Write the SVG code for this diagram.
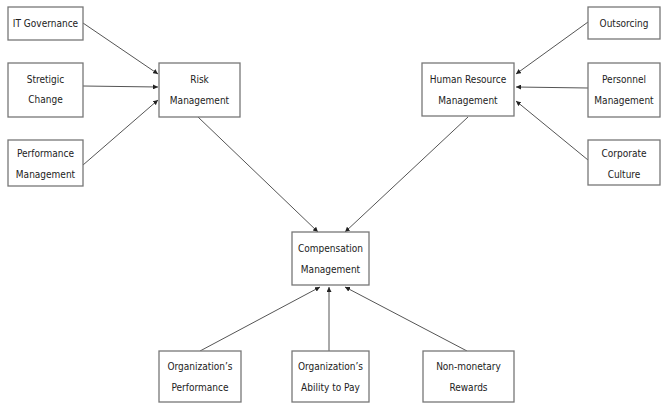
<svg xmlns="http://www.w3.org/2000/svg" width="663" height="411" viewBox="0 0 663 411">
<defs>
<marker id="ah" viewBox="0 0 10 10" refX="10" refY="5" markerWidth="5" markerHeight="5" orient="auto" markerUnits="userSpaceOnUse">
<path d="M0,0 L10,5 L0,10 z" fill="#222"/>
</marker>
<style>
.box{fill:#fff;stroke:#777;stroke-width:1.3}
.t{font-family:"Liberation Sans Narrow","DejaVu Sans Condensed","Liberation Sans",sans-serif;font-size:10px;fill:#222;text-anchor:middle}
.c{stroke:#555;stroke-width:1;fill:none;marker-end:url(#ah)}
</style>
</defs>
<rect width="663" height="411" fill="#fff"/>
<g id="connectors">
<line class="c" x1="83" y1="23" x2="158" y2="74"/>
<line class="c" x1="83" y1="86" x2="158" y2="87"/>
<line class="c" x1="83" y1="165" x2="158" y2="100"/>
<line class="c" x1="588" y1="22" x2="516" y2="74"/>
<line class="c" x1="588" y1="88" x2="516" y2="87"/>
<line class="c" x1="588" y1="160" x2="516" y2="101"/>
<line class="c" x1="198" y1="117" x2="318" y2="232"/>
<line class="c" x1="468" y1="117" x2="345" y2="232"/>
<line class="c" x1="200" y1="351" x2="320" y2="287"/>
<line class="c" x1="329" y1="351" x2="329" y2="287"/>
<line class="c" x1="467" y1="351" x2="345" y2="287"/>
</g>
<g id="it-governance"><rect class="box" x="8" y="7" width="75" height="33"/><text class="t" x="45.5" y="27">IT Governance</text></g>
<g id="strategic-change"><rect class="box" x="8" y="63" width="75" height="54"/><text class="t" x="45.5" y="83">Stretigic</text><text class="t" x="45.5" y="103">Change</text></g>
<g id="performance-management"><rect class="box" x="8" y="140" width="75" height="46"/><text class="t" x="45.5" y="157">Performance</text><text class="t" x="45.5" y="178">Management</text></g>
<g id="risk-management"><rect class="box" x="159" y="63" width="81" height="54"/><text class="t" x="199.5" y="83">Risk</text><text class="t" x="199.5" y="104">Management</text></g>
<g id="hrm"><rect class="box" x="422" y="63" width="92" height="53"/><text class="t" x="468" y="83">Human Resource</text><text class="t" x="468" y="104">Management</text></g>
<g id="outsourcing"><rect class="box" x="588" y="7" width="72" height="32"/><text class="t" x="624" y="27">Outsorcing</text></g>
<g id="personal-management"><rect class="box" x="588" y="63" width="72" height="54"/><text class="t" x="624" y="83">Personnel</text><text class="t" x="624" y="104">Management</text></g>
<g id="corporate-culture"><rect class="box" x="588" y="140" width="72" height="45"/><text class="t" x="624" y="157">Corporate</text><text class="t" x="624" y="178">Culture</text></g>
<g id="compensation-management"><rect class="box" x="292" y="232" width="77" height="53"/><text class="t" x="330.5" y="252">Compensation</text><text class="t" x="330.5" y="273">Management</text></g>
<g id="org-performance"><rect class="box" x="159" y="351" width="82" height="51"/><text class="t" x="200" y="370">Organization’s</text><text class="t" x="200" y="391">Performance</text></g>
<g id="org-ability"><rect class="box" x="292" y="351" width="77" height="51"/><text class="t" x="330.5" y="370">Organization’s</text><text class="t" x="330.5" y="391">Ability to Pay</text></g>
<g id="non-monetary"><rect class="box" x="423" y="351" width="91" height="51"/><text class="t" x="468.5" y="370">Non-monetary</text><text class="t" x="468.5" y="391">Rewards</text></g>
</svg>
